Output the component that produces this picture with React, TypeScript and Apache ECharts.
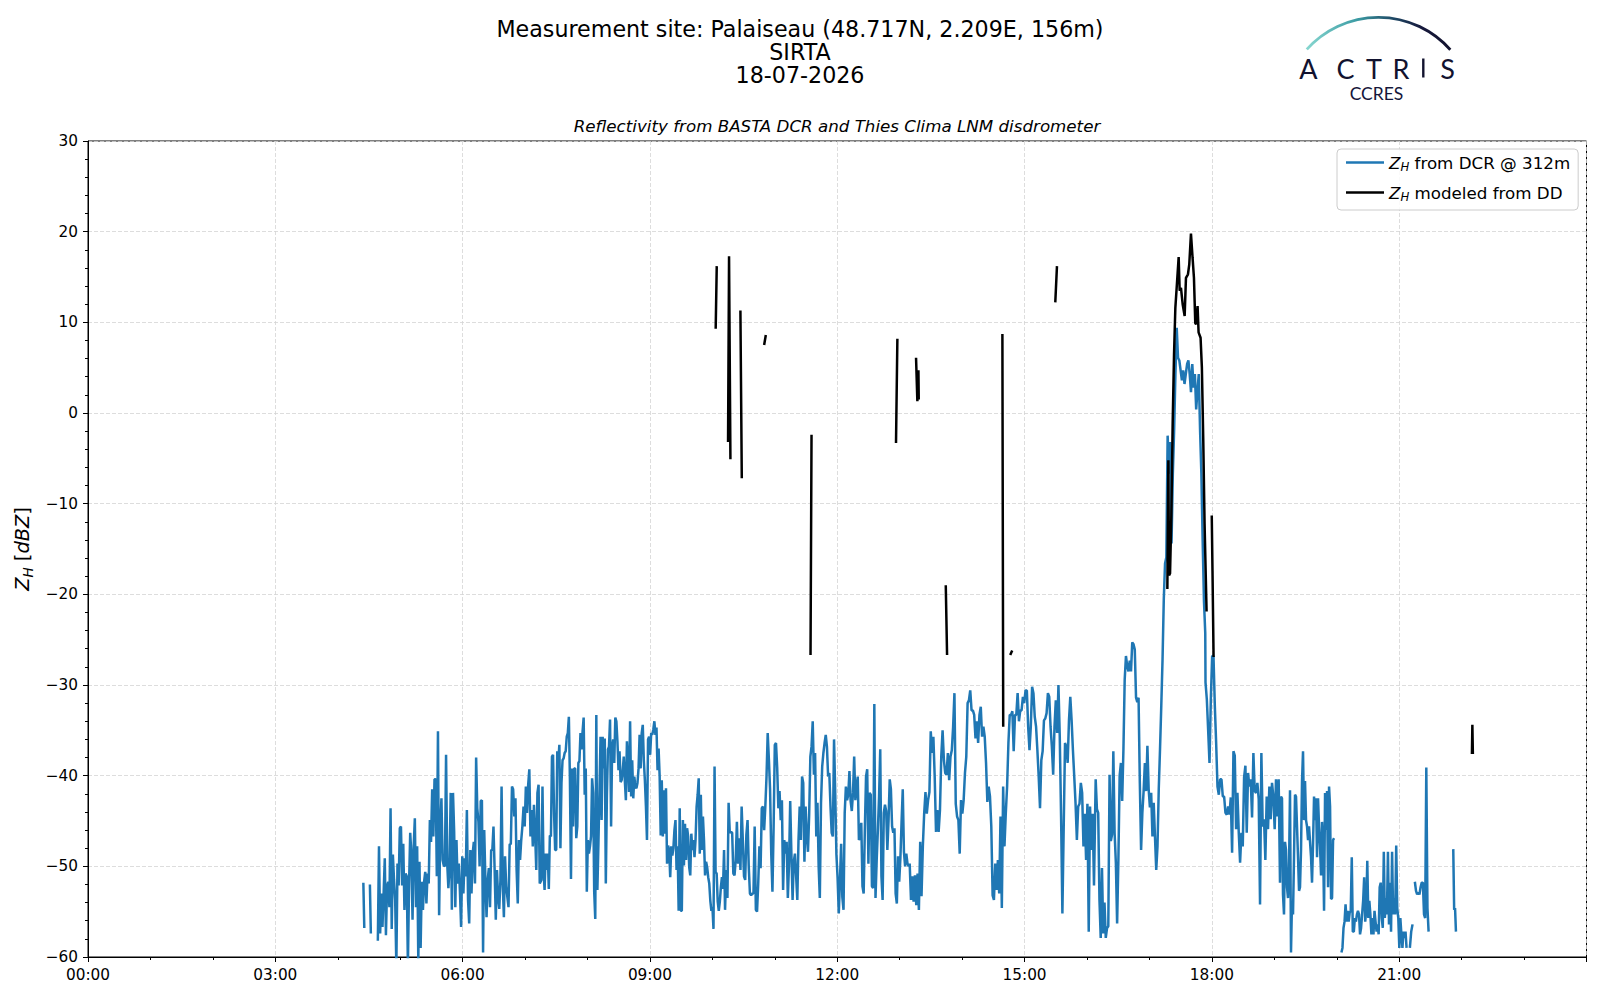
import React, { useEffect, useRef } from "react";
import * as echarts from "echarts";

const FONT = "DejaVu Sans";

// ---- Z_H from DCR @ 312m : consecutive runs (hours, dBZ) ----
const dcrRun01Span = [4.41, 4.425];
const dcrRun01 = [-51.8, -56.8];
const dcrRun02Span = [4.515, 4.53];
const dcrRun02 = [-52.0, -57.4];
const dcrRun03Span = [4.642, 7.235];
const dcrRun03 = [
  -58.2, -47.8, -57.4, -53, -56.7, -53, -49.1, -57.6, -52.2, -51.7, -54.5, -43.6, -56.9, -48.7, -51.5, -53.7,
  -61, -49.7, -52.1, -45.8, -45.6, -52.1, -47.5, -54.8, -50.8, -51.1, -61, -51.9, -46.3, -48.7, -55.9, -47.8,
  -44.7, -54.5, -47.8, -60.5, -49.5, -59, -51.7, -54.8, -51.7, -50.6, -54.1, -50.8, -51.9, -44.9, -47.3, -41.5,
  -46.7, -40.4, -40.4, -51.1, -35.1, -55.4, -45.6, -42.5, -49.3, -49.9, -50.0, -37.7, -49.7, -52.4, -50.2, -41.9,
  -54.8, -41.9, -46.2, -54.5, -47.1, -51.9, -49.7, -52.8, -56.7, -48.9, -53, -49.1, -51.1, -43.8, -53.7, -56.3,
  -48.2, -53, -48.6, -47.3, -51.9, -38.0, -43.6, -45.1, -50.0, -42.8, -42.7, -59.5, -46.0, -51.5, -55.6, -51.5,
  -50.2, -54.5, -48.2, -48.2, -45.6, -50.4, -55.9, -50.4, -53.4, -54.7, -51.5, -41.2, -51.9, -55.6, -48.9, -52.2,
  -53.4, -54.5, -47.6, -47.5, -41.2, -41.5, -44.5, -42.5, -50.4, -54.1, -47.1, -49.3, -47.1, -45.6, -43.4, -45.6,
  -41.2, -44.1, -41.0, -39.3, -46.7, -43.8, -47.8, -43.2, -46.3, -50.4, -41.9, -41.0, -51.9,
];
const dcrRun04Span = [7.262, 10.187];
const dcrRun04 = [
  -51.5, -41.2, -50.4, -52.6, -48.6, -50.4, -48.6, -52.5, -46.6, -46.7, -37.9, -37.7, -44.2, -48.2, -48.2, -37.3,
  -38.4, -36.6, -48.0, -40.8, -38.3, -38.1, -37.5, -37.3, -35.7, -35.3, -33.5, -40.5, -51.4, -39.2, -45.6, -39.2,
  -39.2, -46.9, -45.6, -38.6, -38.4, -35.3, -37.1, -35.1, -33.6, -42.1, -39.2, -52.8, -47.1, -48.6, -47.8, -46.7,
  -40.3, -41.9, -52.8, -55.8, -33.3, -52.6, -47.5, -41.6, -35.7, -44.9, -35.7, -39.2, -35.9, -51.9, -42.3, -37.1,
  -36.8, -33.8, -45.6, -36.8, -36.0, -38.6, -33.6, -34.0, -36.2, -39.4, -37.3, -40.7, -40.5, -39.5, -37.9, -40.5,
  -42.7, -36.2, -38.3, -41.8, -34.0, -42.3, -38.3, -42.5, -40.1, -41.2, -41.4, -40.8, -39.2, -35.5, -39.2, -35.3,
  -34.4, -38.3, -40.5, -43.4, -47.1, -36.0, -35.7, -37.7, -35.3, -35.5, -34.9, -34.0, -35.5, -34.7, -39.4, -37.0,
  -40.1, -46.6, -40.5, -46.7, -41.6, -46.4, -41.4, -49.7, -47.7, -48.2, -51.2, -47.8, -48.8, -48.0, -46.0, -44.9,
  -50.4, -47.8, -54.9, -43.6, -54.9, -54.9, -44.9, -49.9, -45.3, -49.3, -45.8, -46.7, -50.1, -51.0, -46.4, -48.2,
  -47.1, -49.0, -47.1, -43.4, -42.1, -40.3, -48.6, -42.1, -48.2, -44.5, -47.1, -51.0, -49.5, -50.1, -51.2, -51.9,
  -53.8, -54.9, -54.5, -56.9, -39.0, -50.6, -50.8, -53.9, -54.9, -53.9, -52.3, -51.2, -52.5, -48.2,
];
const dcrRun05Span = [10.203, 13.144];
const dcrRun05 = [
  -54.8, -50.4, -53.5, -43.0, -46.3, -46.2, -46.3, -50.8, -51.0, -49.3, -45.1, -49.7, -46.9, -50.4, -43.4, -47.1,
  -51.1, -51.5, -46.5, -44.9, -50.0, -53.0, -53.2, -53.0, -53.0, -45.6, -54.8, -55.0, -51.9, -47.8, -50.2, -43.6,
  -43.4, -46.0, -43.4, -40.1, -35.3, -38.2, -41.5, -48.6, -52.8, -45.6, -36.6, -36.4, -39.1, -43.6, -41.7, -44.9,
  -42.7, -52.6, -47.1, -48.6, -47.3, -53.5, -49.7, -42.8, -48.6, -53.7, -49.5, -48.6, -51.1, -53.7, -47.1, -43.4,
  -47.1, -40.1, -40.8, -49.5, -43.4, -46.7, -48.4, -44.3, -37.9, -36.8, -34.0, -39.9, -37.5, -46.7, -43.0, -50.0,
  -53.5, -43.0, -39.0, -37.5, -36.4, -35.5, -36.8, -40.1, -39.7, -43.4, -46.3, -46.7, -36.0, -41.9, -48.7, -51.3,
  -55.2, -51.5, -47.5, -53.4, -54.8, -44.1, -41.2, -42.7, -42.1, -39.5, -42.8, -43.9, -41.9, -37.9, -42.7, -41.2,
  -40.1, -47.1, -46.7, -45.2, -52.2, -53.0, -46.0, -40.1, -39.3, -49.7, -41.9, -42.1, -52.2, -52.4, -32.1, -53.5,
  -49.3, -46.0, -42.3, -37.1, -51.1, -53.7, -44.1, -43.2, -43.9, -48.2, -44.9, -40.4, -41.5, -45.6, -46.3, -45.8,
  -53.0, -54.1, -48.9, -51.7, -49.1, -45.1, -41.5, -48.4, -50.0, -48.6, -49.7, -50.0,
];
const dcrRun06Span = [13.16, 16.112];
const dcrRun06 = [
  -49.7, -53.7, -51.1, -53.9, -51.0, -54.3, -50.8, -54.8, -47.3, -53.3, -47.8, -44.2, -41.8, -44.2, -42.7, -41.8,
  -35.1, -37.5, -35.7, -40.1, -46.2, -43.8, -46.2, -43.8, -37.9, -35.0, -38.3, -39.7, -39.9, -37.5, -40.5, -37.9,
  -37.2, -34.6, -30.9, -43.1, -44.5, -44.9, -48.6, -42.7, -44.2, -42.7, -39.7, -37.9, -32.0, -31.7, -30.6, -32.8,
  -32.8, -33.3, -35.9, -34.0, -36.4, -33.3, -32.4, -35.7, -34.6, -35.7, -38.6, -42.9, -41.2, -42.3, -45.6, -53.2,
  -53.7, -49.7, -52.6, -49.3, -53.0, -44.5, -54.6, -41.2, -47.8, -44.2, -41.2, -36.4, -33.3, -33.3, -32.9, -37.3,
  -33.3, -33.3, -30.9, -34.0, -32.8, -32.8, -31.3, -32.0, -30.6, -30.6, -34.6, -37.2, -34.6, -30.2, -30.9, -33.5,
  -34.6, -37.2, -40.1, -43.6, -38.3, -37.3, -33.9, -33.7, -33.1, -30.9, -31.3, -34.6, -36.8, -39.9, -34.6, -31.7,
  -35.3, -30.0, -35.7, -44.5, -55.2, -45.6, -36.4, -36.8, -38.6, -33.9, -31.3, -33.9, -37.2, -40.1, -43.1, -47.1,
  -43.4, -43.1, -40.8, -41.9, -47.8, -44.2, -49.3, -43.1, -57.2, -43.4, -48.2, -44.2, -52.1,
];
const dcrRun07Span = [16.139, 17.23];
const dcrRun07 = [
  -40.4, -43.7, -44.1, -53.7, -57.9, -50.2, -57.4, -54.0, -57.9, -56.8, -56.6, -39.9, -47.2, -46.5, -37.3, -46.3,
  -49.6, -56.3, -49.3, -40.0, -38.6, -42.8, -37.1, -29.4, -26.8, -27.9, -28.5, -27.3, -28.5, -25.3, -25.5, -26.1,
  -31.4, -31.9, -31.4, -40.8, -48.2, -44.1, -41.7, -38.6, -41.7, -36.7, -41.5, -43.5, -41.9, -46.7, -43.0, -46.7,
  -50.4, -47.8, -41.5, -37.1, -32.3, -27.2, -20.5,
];
const dcrRun08Span = [17.25, 17.894];
const dcrRun08 = [
  -16.6, -15.9, -2.5, -6.7, -3.2, -14.4, -6.7, -1.9, 4.3, 9.4, 6.1, 5.8, 4.7, 3.6, 4.7, 3.2,
  4.3, 5.4, 5.8, 4.3, 2.3, 5.4, 2.8, 4.3, 0.4, 2.5, 4.3, -1.9, -6.7, -14.1, -20.7, -24.3,
];
const dcrRun09Span = [17.898, 19.091];
const dcrRun09 = [
  -29.7, -31.6, -35.0, -38.6, -31.6, -26.8, -26.8, -32.3, -36.4, -41.2, -42.1, -40.4, -40.4, -42.3, -42.3, -44.1,
  -44.3, -43.4, -44.3, -42.4, -48.5, -37.3, -37.8, -45.9, -41.9, -46.3, -49.6, -46.3, -47.8, -40.2, -38.9, -46.3,
  -39.7, -41.2, -40.4, -44.6, -37.5, -41.7, -41.9, -40.8, -42.6, -54.2, -37.5, -45.6, -44.8, -49.3, -42.3, -45.9,
  -41.2, -44.8, -40.8, -42.3, -45.9, -40.4, -44.5, -40.4, -51.8,
];
const dcrRun10Span = [19.107, 19.957];
const dcrRun10 = [
  -42.3, -42.5, -53.1, -55.3, -47.3, -48.2, -52.3, -53.5, -50.1, -41.6, -59.5, -53.8, -55.3, -49.0, -42.1, -42.3,
  -45.6, -49.0, -52.7, -52.3, -48.2, -40.6, -37.3, -44.9, -40.6, -44.9, -45.6, -47.1, -45.6, -47.3, -49.0, -51.8,
  -47.5, -42.3, -44.9, -42.5, -49.0, -42.5, -45.6, -47.9, -51.0, -45.1, -47.3, -54.9, -41.9, -46.0, -41.7, -52.3,
  -41.2, -43.4, -53.6, -53.5, -47.1, -46.9,
];
const dcrRun11Span = [20.075, 21.118];
const dcrRun11 = [
  -59.5, -59.0, -56.8, -56.1, -54.2, -56.1, -54.9, -56.1, -55.1, -54.9, -49.0, -57.2, -57.2, -55.7, -56.1, -55.3,
  -54.9, -55.3, -57.5, -56.8, -55.3, -53.8, -51.2, -56.1, -54.9, -49.4, -55.7, -53.8, -55.3, -57.5, -55.7, -57.5,
  -54.9, -56.1, -57.2, -56.4, -57.5, -52.3, -51.8, -55.7, -56.8, -48.4, -55.7, -53.5, -55.3, -48.4, -56.4, -51.8,
  -57.2, -48.4, -55.3, -53.5, -55.3, -47.7, -54.6, -55.7, -59.0, -55.7, -57.5, -59.0, -57.2, -57.9, -57.2, -59.0,
];
const dcrRun12Span = [21.171, 21.214];
const dcrRun12 = [-59.0, -57.2, -56.4];
const dcrRun13Span = [21.251, 21.471];
const dcrRun13 = [-51.7, -52.7, -53.1, -52.9, -53.1, -52.3, -51.8, -51.8, -55.3, -55.7, -39.1, -54.6, -57.2];
const dcrRun14Span = [21.866, 21.909];
const dcrRun14 = [-48.1, -54.8, -54.6, -57.2];

// ---- Z_H modeled from DD (hours / dBZ), null = no data ----
const ddHours = [
  10.053, 10.07, null,
  10.251, 10.267, 10.289, null,
  10.449, 10.471, null,
  10.829, 10.856, null,
  11.572, 11.588, null,
  12.941, 12.963, null,
  13.262, 13.283, 13.3, 13.305, null,
  13.738, 13.759, null,
  14.645, 14.658, null,
  14.77, 14.802, null,
  15.492, 15.519, null,
  17.287, 17.303, 17.314, 17.33, 17.351, 17.372, 17.394, 17.415, 17.436, 17.468, 17.484, 17.505, 17.532, 17.564,
  17.585, 17.617, 17.638, 17.665, 17.691, 17.713, 17.734, 17.75, 17.771, 17.787, 17.819, 17.84, 17.862, 17.883,
  17.915, null,
  17.998, 18.01, 18.027, null,
  22.165, 22.172, 22.18,
];
const ddValues = [
  9.3, 16.2, null,
  -3.2, 17.3, -5.1, null,
  11.3, -7.2, null,
  7.5, 8.6, null,
  -26.7, -2.4, null,
  -3.3, 8.2, null,
  6.1, 1.3, 4.7, 1.5, null,
  -19.0, -26.7, null,
  8.7, -34.6, null,
  -26.7, -26.2, null,
  12.2, 16.2, null,
  -19.4, -5.2, -17.9, -17.7, -11.3, -1.2, 6.5, 11.6, 13.8, 17.2, 13.5, 13.8, 12.0, 10.7,
  14.9, 15.3, 16.4, 19.8, 17.1, 14.9, 9.9, 9.8, 11.8, 8.9, 8.3, 5.0, -3.0, -12.2,
  -21.9, null,
  -11.3, -17.4, -26.9, null,
  -37.6, -34.4, -37.6,
];

// axis ticks
const xTickHours = [0, 3, 6, 9, 12, 15, 18, 21, 24];
const yTicks = [-60, -50, -40, -30, -20, -10, 0, 10, 20, 30];

// [span, values, gap after]
const dcrRuns: [number[], number[], boolean][] = [
  [dcrRun01Span, dcrRun01, true],
  [dcrRun02Span, dcrRun02, true],
  [dcrRun03Span, dcrRun03, false],
  [dcrRun04Span, dcrRun04, false],
  [dcrRun05Span, dcrRun05, false],
  [dcrRun06Span, dcrRun06, false],
  [dcrRun07Span, dcrRun07, false],
  [dcrRun08Span, dcrRun08, false],
  [dcrRun09Span, dcrRun09, false],
  [dcrRun10Span, dcrRun10, true],
  [dcrRun11Span, dcrRun11, true],
  [dcrRun12Span, dcrRun12, true],
  [dcrRun13Span, dcrRun13, true],
  [dcrRun14Span, dcrRun14, false],
];

function buildDcr() {
  const out: any[] = [];
  for (const [span, vals, gap] of dcrRuns) {
    const n = vals.length;
    vals.forEach((v, i) => {
      const t = n > 1 ? span[0] + ((span[1] - span[0]) * i) / (n - 1) : span[0];
      out.push([t, v]);
    });
    if (gap) out.push([span[1] + 0.001, "-"]);
  }
  return out;
}

function buildDd() {
  return ddHours.map((h, i) => (h === null || ddValues[i] === null ? ["-", "-"] : [h, ddValues[i]]));
}

const pad2 = (n: number) => (n < 10 ? "0" + n : String(n));
const fmtX = (v: number) => (v >= 24 ? "" : pad2(v) + ":00");
const fmtY = (v: number) => (v < 0 ? "\u2212" + Math.abs(v) : String(v));

const richLegend = {
  z: { fontFamily: FONT, fontStyle: "italic", fontSize: 16.7, color: "#000" },
  h: { fontFamily: FONT, fontStyle: "italic", fontSize: 11.7, color: "#000", padding: [9, 0, 0, 0] },
  t: { fontFamily: FONT, fontSize: 16.7, color: "#000" },
};
const richYLabel = {
  z: { fontFamily: FONT, fontStyle: "italic", fontSize: 19.4, color: "#000" },
  h: { fontFamily: FONT, fontStyle: "italic", fontSize: 13.6, color: "#000", padding: [10, 0, 0, 0] },
  t: { fontFamily: FONT, fontSize: 19.4, color: "#000" },
};

export default function App() {
  const ref = useRef<HTMLDivElement>(null);
  useEffect(() => {
    document.body.style.margin = "0";
    const chart = echarts.init(ref.current!, null, { renderer: "svg" });
    const gridLine = { show: true, lineStyle: { color: "#d4d4d4", type: [4, 2], width: 0.8 } };
    const logoStroke = new echarts.graphic.LinearGradient(0, 0, 1, 0, [
      { offset: 0, color: "#86d6cf" },
      { offset: 0.35, color: "#3c9ca4" },
      { offset: 0.6, color: "#1f4a66" },
      { offset: 0.8, color: "#16193c" },
      { offset: 1, color: "#12122e" },
    ]);
    const barStroke = new echarts.graphic.LinearGradient(0, 0, 0, 1, [
      { offset: 0, color: "rgba(20,22,58,0.3)" },
      { offset: 0.4, color: "#1a1c40" },
      { offset: 1, color: "#14163a" },
    ]);
    const letter = (ch: string, x: number) => ({
      type: "text",
      x,
      y: 68,
      style: { text: ch, fontFamily: "Lato", fontSize: 27, fill: "#12132f", align: "center", verticalAlign: "middle" },
    });
    const lineAxis = { show: true, onZero: false, lineStyle: { color: "#000", width: 1 } };
    const option: any = {
      animation: false,
      backgroundColor: "#ffffff",
      grid: { left: 88, top: 141, width: 1498.5, height: 816, show: true, borderColor: "#000", borderWidth: 1 },
      xAxis: {
        type: "value",
        min: xTickHours[0],
        max: xTickHours[xTickHours.length - 1],
        interval: 3,
        axisLine: lineAxis,
        axisTick: { show: true, length: 5, lineStyle: { color: "#000", width: 1 } },
        minorTick: { show: true, splitNumber: 3, length: 3, lineStyle: { color: "#000", width: 1 } },
        axisLabel: { formatter: fmtX, fontFamily: FONT, fontSize: 15.3, color: "#000", margin: 10 },
        splitLine: gridLine,
      },
      yAxis: {
        type: "value",
        min: yTicks[0],
        max: yTicks[yTicks.length - 1],
        interval: 10,
        axisLine: lineAxis,
        axisTick: { show: true, length: 5, lineStyle: { color: "#000", width: 1 } },
        minorTick: { show: true, splitNumber: 5, length: 3, lineStyle: { color: "#000", width: 1 } },
        axisLabel: { formatter: fmtY, fontFamily: FONT, fontSize: 15.3, color: "#000", margin: 10 },
        splitLine: gridLine,
      },
      legend: {
        orient: "vertical",
        left: 1337,
        top: 149,
        padding: [5, 8, 7, 9],
        itemGap: 11,
        itemWidth: 38,
        itemHeight: 2.6,
        icon: "rect",
        borderColor: "#cccccc",
        borderWidth: 1,
        borderRadius: 4,
        backgroundColor: "rgba(255,255,255,0.85)",
        textStyle: { fontFamily: FONT, fontSize: 16.7, color: "#000", rich: richLegend },
        formatter: (name: string) =>
          name === "dcr" ? "{z|Z}{h|H}{t| from DCR @ 312m}" : "{z|Z}{h|H}{t| modeled from DD}",
        data: ["dcr", "dd"],
      },
      series: [
        {
          name: "dcr",
          type: "line",
          data: buildDcr(),
          showSymbol: false,
          symbol: "none",
          connectNulls: false,
          lineStyle: { color: "#1f77b4", width: 2.5 },
          itemStyle: { color: "#1f77b4" },
          z: 2,
        },
        {
          name: "dd",
          type: "line",
          data: buildDd(),
          showSymbol: false,
          symbol: "none",
          connectNulls: false,
          lineStyle: { color: "#000000", width: 2.5 },
          itemStyle: { color: "#000000" },
          z: 3,
        },
      ],
      graphic: [
        {
          type: "text",
          x: 800,
          y: 28.6,
          style: {
            text: "Measurement site: Palaiseau (48.717N, 2.209E, 156m)",
            fontFamily: FONT, fontSize: 22.2, fill: "#000", align: "center", verticalAlign: "middle",
          },
        },
        {
          type: "text",
          x: 800,
          y: 51.5,
          style: { text: "SIRTA", fontFamily: FONT, fontSize: 22.2, fill: "#000", align: "center", verticalAlign: "middle" },
        },
        {
          type: "text",
          x: 800,
          y: 74.5,
          style: { text: "18-07-2026", fontFamily: FONT, fontSize: 22.2, fill: "#000", align: "center", verticalAlign: "middle" },
        },
        {
          type: "text",
          x: 837,
          y: 125.6,
          style: {
            text: "Reflectivity from BASTA DCR and Thies Clima LNM disdrometer",
            fontFamily: FONT, fontStyle: "italic", fontSize: 16.7, fill: "#000", align: "center", verticalAlign: "middle",
          },
        },
        {
          type: "text",
          x: 22.5,
          y: 549,
          rotation: Math.PI / 2,
          style: {
            text: "{z|Z}{h|H}{t| [}{z|dBZ}{t|]}",
            rich: richYLabel,
            fontFamily: FONT, fontSize: 19.4, fill: "#000", align: "center", verticalAlign: "middle",
          },
        },
        // ACTRIS / CCRES logo
        {
          type: "arc",
          shape: { cx: 1378.4, cy: 113.2, r: 95.9, startAngle: -2.414, endAngle: -0.723, clockwise: true },
          style: { stroke: logoStroke, lineWidth: 2.8, fill: null },
        },
        {
          type: "line",
          shape: { x1: 1423.3, y1: 0, x2: 1423.3, y2: 52 },
          style: { stroke: barStroke, lineWidth: 2.4 },
        },
        letter("A", 1308.5),
        letter("C", 1345.5),
        letter("T", 1374),
        letter("R", 1401),
        {
          type: "line",
          shape: { x1: 1423.3, y1: 58.5, x2: 1423.3, y2: 77.5 },
          style: { stroke: "#12132f", lineWidth: 2.4 },
        },
        letter("S", 1447.5),
        {
          type: "text",
          x: 1376.5,
          y: 93,
          style: { text: "CCRES", fontFamily: "Lato", fontSize: 17.5, fill: "#15163a", align: "center", verticalAlign: "middle" },
        },
      ],
    };
    chart.setOption(option);
    return () => chart.dispose();
  }, []);
  return <div ref={ref} style={{ width: 1600, height: 1000 }} />;
}
